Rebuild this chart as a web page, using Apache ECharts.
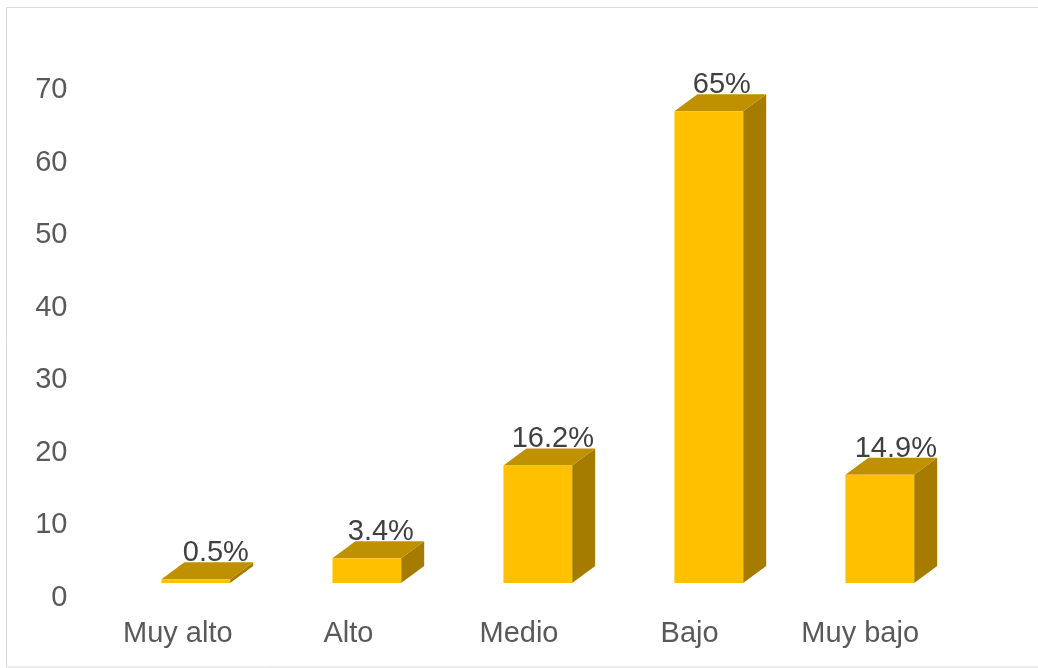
<!DOCTYPE html>
<html>
<head>
<meta charset="utf-8">
<script src="https://cdn.jsdelivr.net/npm/echarts@6/dist/echarts.min.js"></script>
<style>html,body{margin:0;padding:0;background:#fff}#c{width:1038px;height:668px}</style>
</head>
<body>
<div id="c"></div>
<script>
var categories = ['Muy alto', 'Alto', 'Medio', 'Bajo', 'Muy bajo'];
var values = [0.5, 3.4, 16.2, 65, 14.9];
var valueLabels = ['0.5%', '3.4%', '16.2%', '65%', '14.9%'];
var yTicks = {min: 0, max: 70, interval: 10};

// 3D look of the bars, in pixels
var frontShiftX = 18, frontShiftY = -15, depthX = 23, depthY = -17, widthRatio = 0.403;
var labelShiftX = [20, 14, 15, 13, 16];
var labelShiftY = -26;

function renderBar(params, api) {
  var i = api.value(0);
  var top = api.coord([i, api.value(1)]);
  var base = api.coord([i, 0]);
  var w = api.size([1, 0])[0] * widthRatio;
  var x0 = base[0] + frontShiftX + i * 0.4 - w / 2, x1 = x0 + w;
  var yb = base[1] + frontShiftY, yt = top[1] + frontShiftY;
  return {
    type: 'group',
    children: [
      {type: 'polygon', shape: {points: [[x1, yt], [x1 + depthX, yt + depthY], [x1 + depthX, yb + depthY], [x1, yb]]}, style: {fill: '#A67C00'}},
      {type: 'polygon', shape: {points: [[x0, yt], [x0 + depthX, yt + depthY], [x1 + depthX, yt + depthY], [x1, yt]]}, style: {fill: '#BF9000'}},
      {type: 'rect', shape: {x: x0, y: yt, width: w, height: yb - yt}, style: {fill: '#FFC000'}},
      {type: 'text', style: {
        x: x0 + w / 2 + labelShiftX[i], y: yt + labelShiftY,
        text: valueLabels[i], fill: '#404040',
        font: '29px "Liberation Sans", Arial, sans-serif',
        align: 'center', verticalAlign: 'middle'
      }, z2: 10}
    ]
  };
}

var chart = echarts.init(document.getElementById('c'), null, {renderer: 'canvas'});
chart.setOption({
  animation: false,
  backgroundColor: '#ffffff',
  graphic: [{
    type: 'rect', silent: true,
    shape: {x: 6.5, y: 7.5, width: 1040, height: 659.5},
    style: {fill: 'none', stroke: '#d9d9d9', lineWidth: 1}
  }],
  grid: {left: 92.5, right: 92.5, top: 90, bottom: 70, containLabel: false},
  xAxis: {
    type: 'category',
    data: categories,
    axisLine: {show: false},
    axisTick: {show: false},
    axisLabel: {color: '#595959', fontSize: 29, fontFamily: '"Liberation Sans", Arial, sans-serif', margin: 21, interval: 0}
  },
  yAxis: {
    type: 'value',
    min: yTicks.min, max: yTicks.max, interval: yTicks.interval,
    axisLine: {show: false},
    axisTick: {show: false},
    splitLine: {show: false},
    axisLabel: {color: '#595959', fontSize: 29, fontFamily: '"Liberation Sans", Arial, sans-serif', margin: 25}
  },
  series: [{
    type: 'custom',
    renderItem: renderBar,
    clip: false,
    encode: {x: 0, y: 1},
    data: values.map(function (v, i) { return [i, v]; })
  }]
});
</script>
</body>
</html>
